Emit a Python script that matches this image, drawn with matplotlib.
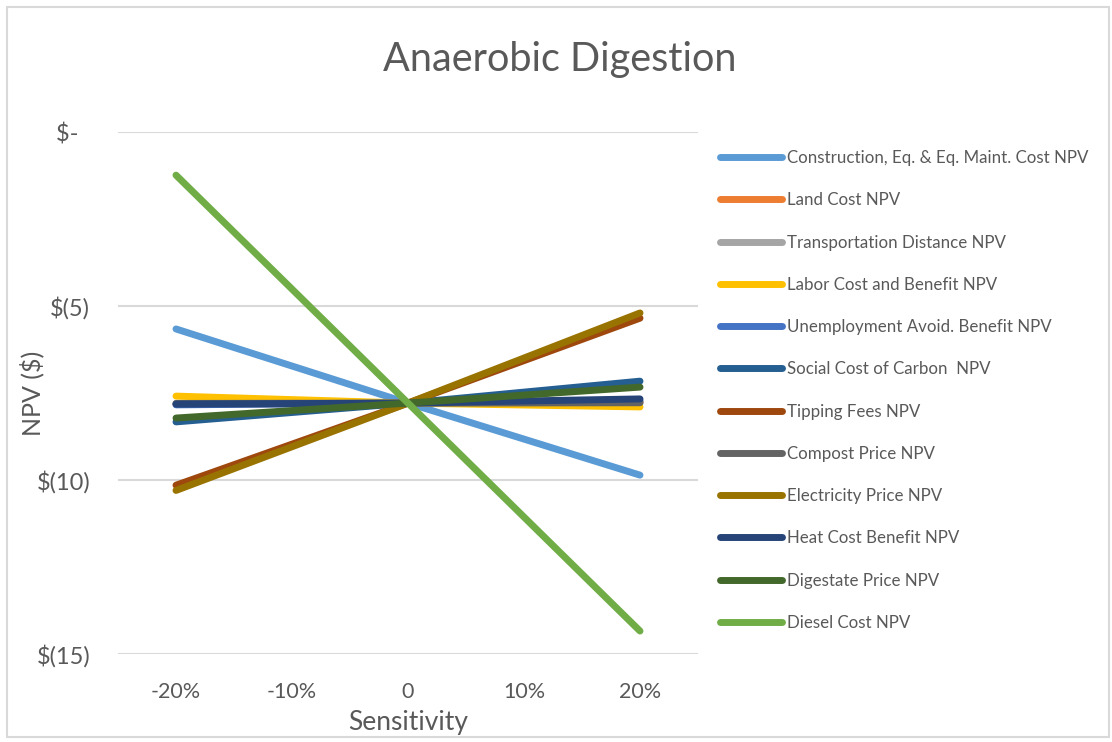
import matplotlib
matplotlib.use("Agg")
import matplotlib.pyplot as plt
from matplotlib.patches import Rectangle
from matplotlib.ticker import FixedLocator, FixedFormatter

plt.rcParams['font.family'] = ['Lato', 'DejaVu Sans']

# Sensitivity levels (fraction) and NPV results ($) for each parameter
sensitivity = [-0.20, 0.0, 0.20]
tick_positions = [-0.20, -0.10, 0.0, 0.10, 0.20]
tick_labels = ["-20%", "-10%", "0", "10%", "20%"]

construction = [-5.66, -7.79, -9.86]
land_cost = [-7.82, -7.79, -7.76]
transportation = [-7.80, -7.79, -7.78]
labor = [-7.59, -7.79, -7.90]
unemployment = [-7.84, -7.79, -7.72]
social_carbon = [-8.33, -7.79, -7.16]
tipping_fees = [-10.15, -7.79, -5.35]
compost_price = [-7.80, -7.79, -7.78]
electricity_price = [-10.30, -7.79, -5.20]
heat_cost = [-7.82, -7.79, -7.67]
digestate_price = [-8.22, -7.79, -7.33]
diesel_cost = [-1.24, -7.79, -14.34]

series = [
    ("Construction, Eq. & Eq. Maint. Cost NPV", construction, "#5B9BD5"),
    ("Land Cost NPV", land_cost, "#ED7D31"),
    ("Transportation Distance NPV", transportation, "#A5A5A5"),
    ("Labor Cost and Benefit NPV", labor, "#FFC000"),
    ("Unemployment Avoid. Benefit NPV", unemployment, "#4472C4"),
    ("Social Cost of Carbon  NPV", social_carbon, "#255E91"),
    ("Tipping Fees NPV", tipping_fees, "#9E480E"),
    ("Compost Price NPV", compost_price, "#636363"),
    ("Electricity Price NPV", electricity_price, "#997300"),
    ("Heat Cost Benefit NPV", heat_cost, "#264478"),
    ("Digestate Price NPV", digestate_price, "#43682B"),
    ("Diesel Cost NPV", diesel_cost, "#70AD47"),
]

y_ticks = [0, -5, -10, -15]
y_labels = ["$-  ", "$(5)", "$(10)", "$(15)"]

text_color = "#595959"
grid_color = "#D9D9D9"

W, H = 1112, 742
fig = plt.figure(figsize=(W / 100, H / 100), dpi=100)
fig.patch.set_facecolor("white")

# chart border
fig.add_artist(Rectangle((7 / W, 5 / H), 1102 / W, 730 / H,
                         transform=fig.transFigure, fill=False,
                         edgecolor=grid_color, linewidth=1.5))

ax = fig.add_axes([118 / W, 88 / H, 580 / W, 522 / H])
ax.set_facecolor("white")

for label, values, color in series:
    ax.plot(sensitivity, values, color=color, linewidth=5,
            solid_capstyle="round", label=label, zorder=3)

ax.set_xlim(-0.25, 0.25)
ax.set_ylim(-15, 0)
ax.xaxis.set_major_locator(FixedLocator(tick_positions))
ax.xaxis.set_major_formatter(FixedFormatter(tick_labels))
ax.yaxis.set_major_locator(FixedLocator(y_ticks))
ax.yaxis.set_major_formatter(FixedFormatter(y_labels))
ax.grid(axis="y", color=grid_color, linewidth=1.5, zorder=0)
ax.grid(axis="x", visible=False)
for spine in ax.spines.values():
    spine.set_visible(False)
ax.tick_params(axis="x", length=0, labelsize=15.5, colors=text_color, pad=20)
ax.tick_params(axis="y", length=0, labelsize=17, colors=text_color, pad=20)

ax.set_xlabel("Sensitivity", fontsize=19, color=text_color, labelpad=6)

fig.text(32 / W, 1 - 393 / H, "NPV ($)", rotation=90, ha="center",
         va="center", fontsize=18, color=text_color)

fig.text(560 / W, 1 - 60 / H, "Anaerobic Digestion", ha="center",
         va="center", fontsize=28.5, color=text_color)

leg = ax.legend(loc="upper left", bbox_to_anchor=(720 / W, 1 - 150 / H),
                bbox_transform=fig.transFigure, frameon=False, fontsize=12.2,
                handlelength=3.65, handletextpad=0.3, labelspacing=1.55,
                borderaxespad=0, borderpad=0)
for txt in leg.get_texts():
    txt.set_color(text_color)

fig.savefig("out.png", dpi=100, facecolor="white")
